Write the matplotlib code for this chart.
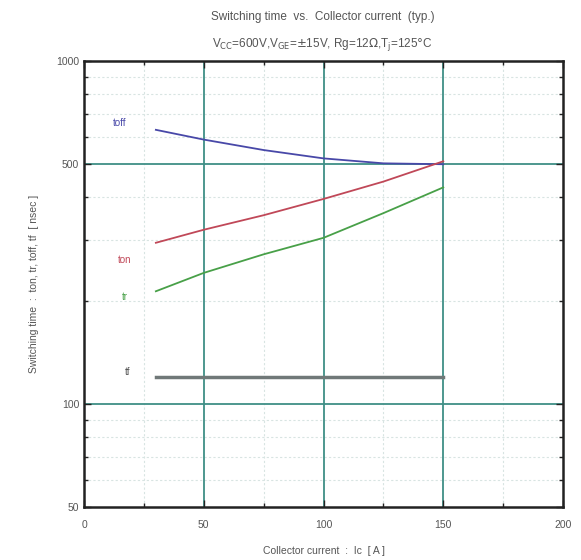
import numpy as np
import matplotlib.pyplot as plt
from matplotlib.ticker import FixedLocator, NullFormatter

plt.rcParams['font.family'] = ['Liberation Sans', 'DejaVu Sans']

ic = [30, 50, 75, 100, 125, 150]
toff = [630, 590, 550, 520, 503, 500]
ton = [295, 322, 355, 396, 445, 510]
tr = [213, 241, 273, 305, 360, 428]
tf_x = [30, 150]
tf = [120, 120]

xticks = [0, 50, 100, 150, 200]
yticks = [50, 100, 500, 1000]

fig = plt.figure(figsize=(5.81, 5.60), dpi=100)
ax = fig.add_axes([0.1446, 0.0946, 0.8245, 0.7964])
ax.set_yscale('log')
ax.set_xlim(0, 200)
ax.set_ylim(50, 1000)

# grid
minor_y = [60, 70, 80, 90, 200, 300, 400, 600, 700, 800, 900]
for v in minor_y:
    ax.axhline(v, color='#d8e4e2', lw=0.8, ls=(0, (2, 2)), zorder=0)
for v in [25, 75, 125, 175]:
    ax.axvline(v, color='#d8e4e2', lw=0.8, ls=(0, (2, 2)), zorder=0)
for v in [50, 100, 150]:
    ax.axvline(v, color='#3f8f86', lw=1.3, zorder=1)
for v in [100, 500]:
    ax.axhline(v, color='#3f8f86', lw=1.3, zorder=1)

ax.plot(ic, toff, color='#4848a8', lw=1.3, zorder=3)
ax.plot(ic, ton, color='#c04858', lw=1.3, zorder=3)
ax.plot(ic, tr, color='#48a048', lw=1.3, zorder=3)
ax.plot(tf_x, tf, color='#707878', lw=2.5, zorder=3)

ax.text(15, 660, 'toff', color='#4848a8', fontsize=7, ha='center', va='center')
ax.text(17, 262, 'ton', color='#c04858', fontsize=7, ha='center', va='center')
ax.text(17, 205, 'tr', color='#48a048', fontsize=7, ha='center', va='center')
ax.text(18, 124, 'tf', color='#555555', fontsize=7, ha='center', va='center')

ax.xaxis.set_major_locator(FixedLocator(xticks))
ax.xaxis.set_minor_locator(FixedLocator([25, 75, 125, 175]))
ax.yaxis.set_major_locator(FixedLocator(yticks))
ax.yaxis.set_minor_locator(FixedLocator(minor_y))
ax.yaxis.set_minor_formatter(NullFormatter())
ax.set_xticklabels([str(v) for v in xticks])
ax.set_yticklabels([str(v) for v in yticks])
ax.tick_params(which='both', direction='in', top=True, right=True,
               labelsize=7.5, labelcolor='#555555', color='#222222')
ax.tick_params(which='major', length=5, width=1)
ax.tick_params(which='minor', length=3, width=1)
ax.tick_params(axis='x', which='major', pad=9)
for s in ax.spines.values():
    s.set_linewidth(1.8)
    s.set_color('#222222')

ax.set_xlabel('Collector current  :  Ic  [ A ]', fontsize=7.5, color='#555555', labelpad=12)
ax.set_ylabel('Switching time  :  ton, tr, toff, tf  [ nsec ]', fontsize=7.5, color='#555555', labelpad=12)

fig.text(0.555, 0.969, 'Switching time  vs.  Collector current  (typ.)', fontsize=8.5,
         color='#555555', ha='center', va='center')
fig.text(0.555, 0.921, r'V$_{\mathrm{CC}}$=600V,V$_{\mathrm{GE}}$=$\pm$15V, Rg=12$\Omega$,T$_{\mathrm{j}}$=125$\degree$C',
         fontsize=8.5, color='#555555', ha='center', va='center')

fig.savefig('out.png', dpi=100)
